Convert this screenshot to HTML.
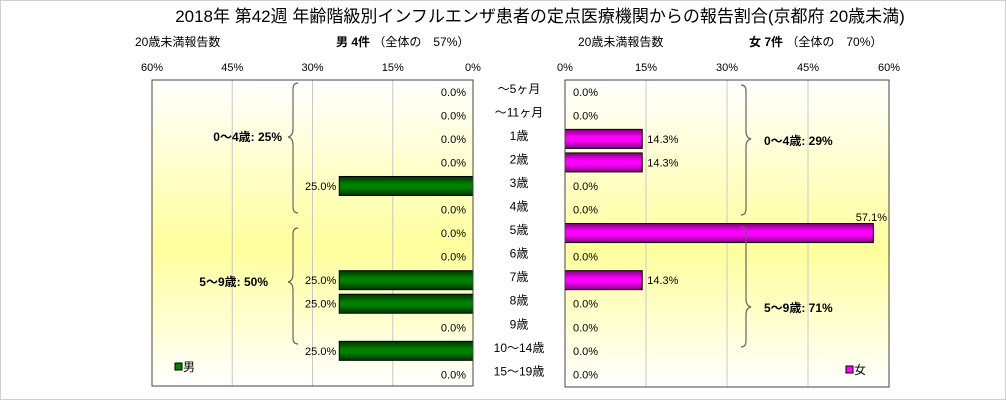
<!DOCTYPE html>
<html><head><meta charset="utf-8"><style>
html,body{margin:0;padding:0;background:#fff}
svg{display:block;font-family:"Liberation Sans","Noto Sans CJK JP",sans-serif}
</style></head><body>
<svg id="chart" width="1006" height="400" viewBox="0 0 1006 400">
<defs>
<linearGradient id="bg" x1="0" y1="0" x2="0" y2="1">
<stop offset="0" stop-color="#ffffff"/><stop offset="0.55" stop-color="#ffff9c"/><stop offset="1" stop-color="#ffffff"/>
</linearGradient>
<linearGradient id="gm" x1="0" y1="0" x2="0" y2="1">
<stop offset="0" stop-color="#003300"/><stop offset="0.4" stop-color="#008000"/><stop offset="0.6" stop-color="#008000"/><stop offset="1" stop-color="#003300"/>
</linearGradient>
<linearGradient id="gf" x1="0" y1="0" x2="0" y2="1">
<stop offset="0" stop-color="#800080"/><stop offset="0.4" stop-color="#ff00ff"/><stop offset="0.6" stop-color="#ff00ff"/><stop offset="1" stop-color="#800080"/>
</linearGradient>
</defs>
<rect x="0.5" y="0.5" width="1005" height="399" fill="none" stroke="#d0d0d0"/>
<text x="540" y="22" font-size="17" text-anchor="middle">2018年 第42週 年齢階級別インフルエンザ患者の定点医療機関からの報告割合(京都府 20歳未満)</text>
<text x="135" y="46" font-size="12">20歳未満報告数</text>
<text x="336" y="46" font-size="12"><tspan font-weight="bold">男 4件</tspan> （全体の　57%）</text>
<text x="578" y="46" font-size="12">20歳未満報告数</text>
<text x="749" y="46" font-size="12"><tspan font-weight="bold">女 7件</tspan> （全体の　70%）</text>
<rect x="152" y="80" width="321" height="306" fill="url(#bg)"/>
<rect x="565" y="80" width="324" height="307" fill="url(#bg)"/>
<g id="grid"></g>
<g id="bars"></g>
<rect x="152" y="80" width="321" height="306" fill="none" stroke="#444"/>
<rect x="565" y="80" width="324" height="307" fill="none" stroke="#444"/>
<g fill="none" stroke="#666" stroke-width="1.2">
<path d="M298,83 q-5,0 -5,6 v40 q0,7 -5,8 q5,1 5,8 v62 q0,6 5,6"/>
<path d="M298,228 q-5,0 -5,6 v40 q0,7 -5,8 q5,1 5,8 v48 q0,6 5,6"/>
<path d="M741,85 q5,0 5,6 v40 q0,7 5,8 q-5,1 -5,8 v62 q0,6 -5,6"/>
<path d="M741,227 q5,0 5,6 v66 q0,7 5,8 q-5,1 -5,8 v26 q0,6 -5,6"/>
</g>
<g font-size="12" font-weight="bold">
<text x="282" y="141" text-anchor="end">0〜4歳: 25%</text>
<text x="268" y="286" text-anchor="end">5〜9歳: 50%</text>
<text x="764" y="145">0〜4歳: 29%</text>
<text x="764" y="312">5〜9歳: 71%</text>
</g>
<rect x="175" y="363" width="7" height="7" fill="#008000" stroke="#000"/>
<text x="183" y="371" font-size="12">男</text>
<rect x="846" y="366" width="7" height="7" fill="#ff00ff" stroke="#000"/>
<text x="854" y="374" font-size="12">女</text>
</svg>
<script>
const categories=["〜5ヶ月","〜11ヶ月","1歳","2歳","3歳","4歳","5歳","6歳","7歳","8歳","9歳","10〜14歳","15〜19歳"];
const maleValues=[0,0,0,0,25,0,0,0,25,25,0,25,0];
const femaleValues=[0,0,14.3,14.3,0,0,57.1,0,14.3,0,0,0,0];
const tickValues=[0,15,30,45,60];
const tickLabels=["0%","15%","30%","45%","60%"];
const NS="http://www.w3.org/2000/svg";
const top0=80,rowH=23.55;
const xMale=v=>473-v*321/60;
const xFem=v=>565+v*324/60;
const yRow=i=>top0+rowH*(i+0.5);
function mk(tag,attrs,parent,txt){const e=document.createElementNS(NS,tag);for(const k in attrs)e.setAttribute(k,attrs[k]);if(txt!==undefined)e.textContent=txt;parent.appendChild(e);return e;}
const svg=document.getElementById('chart'),grid=document.getElementById('grid'),bars=document.getElementById('bars');
tickValues.forEach((t,i)=>{
  if(t>0&&t<60){
    let l=mk('line',{x1:xMale(t),x2:xMale(t),y1:80,y2:386,stroke:'#c8c8c8'},grid);
    
    
    let r=mk('line',{x1:xFem(t),x2:xFem(t),y1:80,y2:387,stroke:'#c8c8c8'},grid);
    
    
  }
  let a=mk('text',{x:xMale(t),y:71,'font-size':11,'text-anchor':'middle'},svg,tickLabels[i]);
  
  
  let b=mk('text',{x:xFem(t),y:71,'font-size':11,'text-anchor':'middle'},svg,tickLabels[i]);
  
  
});
categories.forEach((c,i)=>{
  const y=yRow(i);
  let lab=mk('text',{x:519,y:y+1,'font-size':12,'text-anchor':'middle'},svg,c);
  
  
  const m=maleValues[i];
  if(m>0){
    let r=mk('rect',{x:xMale(m),y:y-9.5,width:473-xMale(m),height:19,fill:'url(#gm)',stroke:'#000'},bars);
    
    
    let t=mk('text',{x:xMale(m)-3,y:y+4,'font-size':11,'text-anchor':'end'},bars,m.toFixed(1)+'%');
    
    
  } else {
    let t=mk('text',{x:466,y:y+4,'font-size':11,'text-anchor':'end'},bars,'0.0%');
    
    
  }
  const f=femaleValues[i];
  if(f>0){
    let r=mk('rect',{x:565,y:y-9.5,width:xFem(f)-565,height:19,fill:'url(#gf)',stroke:'#000'},bars);
    
    
    let t;
    if(xFem(f)+40>889){t=mk('text',{x:887,y:y-12,'font-size':11,'text-anchor':'end'},bars,f.toFixed(1)+'%');}
    else{t=mk('text',{x:xFem(f)+5,y:y+4,'font-size':11},bars,f.toFixed(1)+'%');}
    
    
  } else {
    let t=mk('text',{x:573,y:y+4,'font-size':11},bars,'0.0%');
    
    
  }
});
</script>
</body></html>
